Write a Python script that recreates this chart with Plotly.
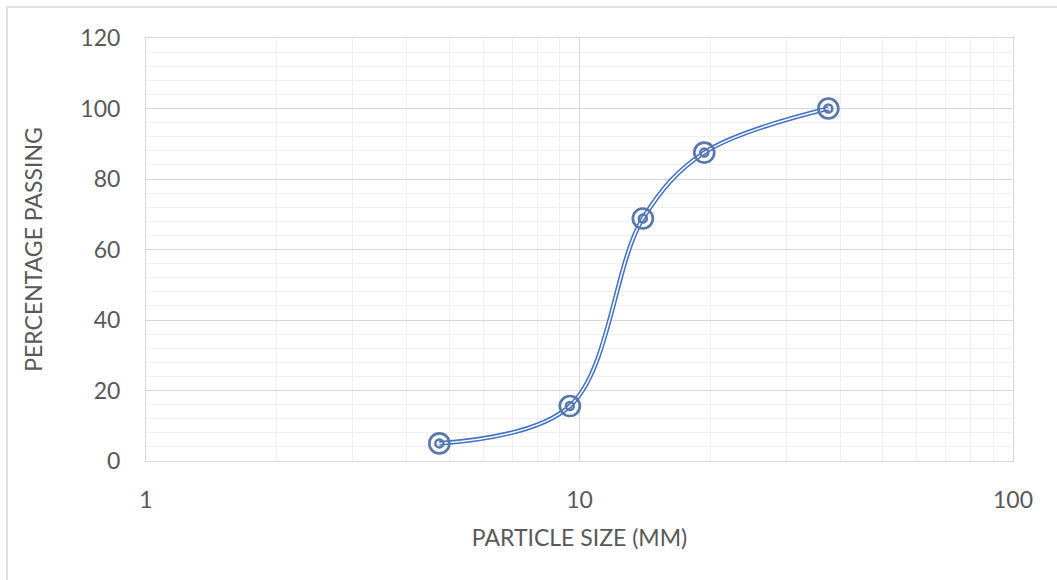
import plotly.graph_objects as go

# Sieve analysis: particle size (mm) vs cumulative percentage passing
particle_size = [4.75, 9.5, 14, 19.4, 37.5]
percent_passing = [5, 15.6, 68.8, 87.5, 100]

x_ticks = [1, 10, 100]
x_minor = [2, 3, 4, 5, 6, 7, 8, 9, 20, 30, 40, 50, 60, 70, 80, 90]

W, H = 1057, 580
L, R, T, B = 146, 44, 38, 119

blue = "#4472C4"
marker_blue = "#5878AE"
font_family = "Lato, 'Open Sans', sans-serif"
tick_color = "#595959"

fig = go.Figure()

# double (compound) line: wide blue stroke with a thin white core
fig.add_trace(go.Scatter(x=particle_size, y=percent_passing, mode="lines",
                         line=dict(color=blue, width=4.6, shape="spline", smoothing=1.0),
                         hoverinfo="skip", showlegend=False))
fig.add_trace(go.Scatter(x=particle_size, y=percent_passing, mode="lines",
                         line=dict(color="white", width=1.5, shape="spline", smoothing=1.0),
                         hoverinfo="skip", showlegend=False))
# bullseye markers: outer ring and inner ring
fig.add_trace(go.Scatter(x=particle_size, y=percent_passing, mode="markers",
                         marker=dict(symbol="circle-open", size=20, color=marker_blue,
                                     line=dict(width=2.7)),
                         showlegend=False))
fig.add_trace(go.Scatter(x=particle_size, y=percent_passing, mode="markers",
                         marker=dict(symbol="circle-open", size=8, color=marker_blue,
                                     line=dict(width=2.5)),
                         showlegend=False))

grid_major = "#D9D9D9"
grid_minor = "#F0F0F0"
label_font = dict(size=23, color=tick_color, family=font_family)

fig.update_xaxes(type="log", range=[0, 2], tickvals=x_ticks,
                 ticktext=[str(v) for v in x_ticks],
                 showgrid=True, gridcolor=grid_major, gridwidth=1,
                 minor=dict(tickvals=x_minor, showgrid=True, gridcolor=grid_minor, gridwidth=1),
                 showline=True, linecolor=grid_major, linewidth=1, mirror=True,
                 ticks="", zeroline=False, ticklabelstandoff=18,
                 tickfont=label_font,
                 title=dict(text="PARTICLE SIZE (MM)", standoff=18, font=label_font))
fig.update_yaxes(range=[0, 120], dtick=20,
                 showgrid=True, gridcolor=grid_major, gridwidth=1,
                 minor=dict(dtick=4, showgrid=True, gridcolor=grid_minor, gridwidth=1),
                 showline=True, linecolor=grid_major, linewidth=1, mirror=True,
                 ticks="", zeroline=False, ticklabelstandoff=20,
                 tickfont=label_font,
                 title=dict(text="PERCENTAGE PASSING", standoff=31, font=label_font))

# outer chart frame (left and top edges visible)
pw, ph = W - L - R, H - T - B
fig.add_shape(type="rect", xref="paper", yref="paper",
              x0=(7 - L) / pw, x1=(1070 - L) / pw,
              y0=(H - B - 600) / ph, y1=(H - B - 7) / ph,
              line=dict(color="#D9D9D9", width=1.5), layer="below")

fig.update_layout(width=W, height=H, margin=dict(l=L, r=R, t=T, b=B),
                  paper_bgcolor="white", plot_bgcolor="white",
                  font=dict(family=font_family))

fig.write_html("out.html")
